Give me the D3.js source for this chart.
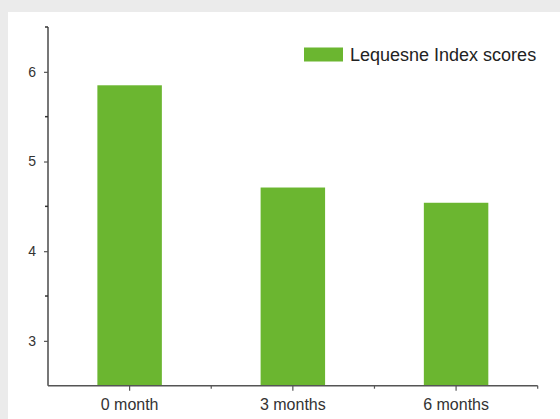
<!DOCTYPE html>
<html><head><meta charset="utf-8">
<script src="https://cdn.jsdelivr.net/npm/d3@7/dist/d3.min.js"></script>
<style>
html,body{margin:0;padding:0;background:#ebebeb;}
svg{display:block;}
text{font-family:"Liberation Sans",Arial,sans-serif;}
</style></head>
<body>
<svg id="chart" width="560" height="419"></svg>
<script>
const categories = ["0 month", "3 months", "6 months"];
const values = [5.85, 4.71, 4.54];
const seriesName = "Lequesne Index scores";
const yTicks = [3, 4, 5, 6];
const yMinorTicks = [3.5, 4.5, 5.5];

const svg = d3.select("#chart");
svg.append("rect").attr("x", 8).attr("y", 12).attr("width", 552).attr("height", 407).attr("fill", "#fff");

const x0 = 48, x1 = 537.7, yTop = 27, yBot = 385.7;
const x = d3.scaleBand().domain(categories).range([x0, x1]).paddingInner(0.605).paddingOuter(0.3025);
const y = d3.scaleLinear().domain([2.5, 6.5]).range([yBot, yTop]);

svg.append("g").selectAll("rect").data(values).join("rect")
  .attr("x", (d, i) => x(categories[i]))
  .attr("width", x.bandwidth())
  .attr("y", d => y(d))
  .attr("height", d => y(2.5) - y(d))
  .attr("fill", "#6bb630");

const axisColor = "#555";
// y axis
const gy = svg.append("g").attr("transform", `translate(${x0},0)`)
  .call(d3.axisLeft(y).tickValues(yTicks).tickSize(4).tickPadding(8).tickFormat(d3.format("d")));
gy.select(".domain").attr("d", `M0,${yTop}V${yBot}`).attr("stroke", axisColor).attr("stroke-width", 1.6);
gy.selectAll(".tick line").attr("stroke", axisColor).attr("stroke-width", 1.2);
gy.selectAll(".tick text").attr("font-size", 14).attr("fill", "#333").attr("font-family", "Liberation Sans, Arial, sans-serif");
gy.append("g").selectAll("line").data(yMinorTicks.concat([6.5])).join("line")
  .attr("x1", -3).attr("x2", 0).attr("y1", d => y(d)).attr("y2", d => y(d))
  .attr("stroke", "#333").attr("stroke-width", 1.5);

// x axis
const gx = svg.append("g").attr("transform", `translate(0,${yBot})`)
  .call(d3.axisBottom(x).tickSize(5).tickPadding(8));
gx.select(".domain").attr("d", `M${x0},0H${x1}`).attr("stroke", axisColor).attr("stroke-width", 1.6);
gx.selectAll(".tick line").attr("stroke", axisColor).attr("stroke-width", 1.2);
gx.selectAll(".tick text").attr("font-size", 16).attr("fill", "#333").attr("font-family", "Liberation Sans, Arial, sans-serif");
const step = x.step();
const minorX = [x(categories[0]) - x.paddingInner()*step/2 + step, x(categories[1]) - x.paddingInner()*step/2 + step, x1];
gx.append("g").selectAll("line").data(minorX).join("line")
  .attr("x1", d => d).attr("x2", d => d).attr("y1", 0).attr("y2", 3)
  .attr("stroke", axisColor).attr("stroke-width", 1.2);

// legend
const lg = svg.append("g");
lg.append("rect").attr("x", 304).attr("y", 47.5).attr("width", 39).attr("height", 14).attr("fill", "#6bb630");
lg.append("text").attr("x", 350).attr("y", 60.5).attr("font-size", 18).attr("fill", "#222").text(seriesName);
</script>
</body></html>
